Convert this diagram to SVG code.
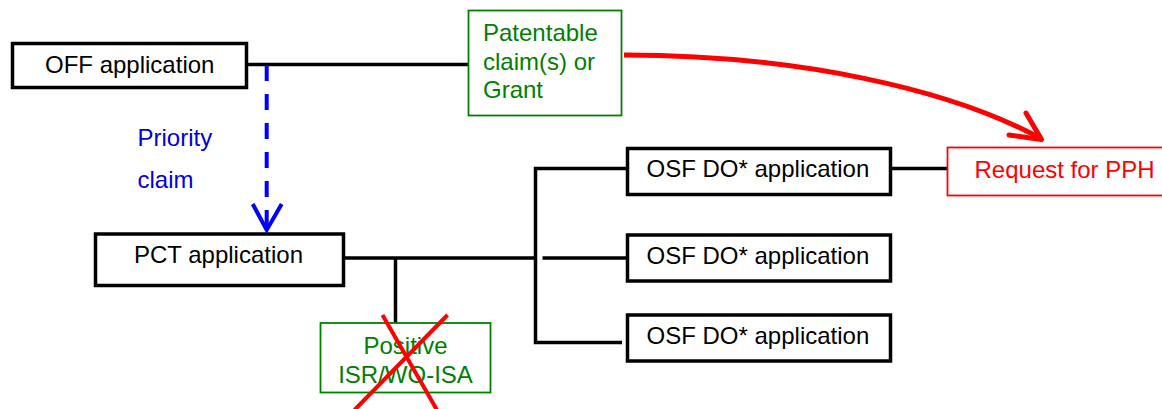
<svg xmlns="http://www.w3.org/2000/svg" width="1162" height="409" viewBox="0 0 1162 409">
<style>
.bk{fill:#fff;stroke:#000;stroke-width:3.5}
.gr{fill:#fff;stroke:#008000;stroke-width:1.8}
.rd{fill:#fff;stroke:#ff0000;stroke-width:1.8}
.t{font-family:"Liberation Sans",Arial,sans-serif;font-size:24px}
.tb{fill:#000}
.tg{fill:#008000}
.tr{fill:#ff0000}
.tbl{fill:#0000e0}
.ln{fill:none;stroke:#000;stroke-width:3.5}
</style>
<rect width="1162" height="409" fill="#fff"/>
<g id="connectors">
<line class="ln" x1="246" y1="64.5" x2="469" y2="64.5"/>
<line class="ln" x1="343" y1="258" x2="536" y2="258"/>
<line class="ln" x1="395.5" y1="258" x2="395.5" y2="323"/>
<polyline class="ln" points="627,168.5 535.5,168.5 535.5,342.5 622,342.5"/>
<line class="ln" x1="542.5" y1="258" x2="627" y2="258"/>
<line class="ln" x1="890" y1="168.5" x2="948" y2="168.5"/>
<line x1="266.7" y1="65" x2="266.7" y2="228" stroke="#0000ff" stroke-width="4" stroke-dasharray="16 13"/>
<polyline points="252.7,204 266.7,230 281.7,204" fill="none" stroke="#0000ff" stroke-width="4"/>
<path d="M624,55 C800,55 950,90 1038,137" fill="none" stroke="#ff0000" stroke-width="5"/>
<polyline points="1026,113 1041.5,139.5 1009,135" fill="none" stroke="#ff0000" stroke-width="5" stroke-linecap="round" stroke-linejoin="round"/>
</g>
<g id="off">
<rect class="bk" x="12.5" y="43.5" width="234" height="44"/>
<text class="t tb" x="45" y="73">OFF application</text>
</g>
<g id="patentable">
<rect class="gr" x="468.5" y="10.5" width="153" height="105"/>
<text class="t tg" x="483" y="41">Patentable</text>
<text class="t tg" x="483" y="69.5">claim(s) or</text>
<text class="t tg" x="483" y="98">Grant</text>
</g>
<g id="priority-label">
<text class="t tbl" x="137.5" y="145.5">Priority</text>
<text class="t tbl" x="137.5" y="188">claim</text>
</g>
<g id="pct">
<rect class="bk" x="95.5" y="234" width="248" height="51.5"/>
<text class="t tb" x="134" y="263">PCT application</text>
</g>
<g id="positive">
<rect class="gr" x="320.5" y="323" width="170" height="69.5"/>
<text class="t tg" x="405.5" y="354" text-anchor="middle">Positive</text>
<text class="t tg" x="405.5" y="383" text-anchor="middle">ISR/WO-ISA</text>
<line x1="382.5" y1="315" x2="437" y2="410" stroke="#ff0000" stroke-width="4"/>
<line x1="447.5" y1="315" x2="354.5" y2="410" stroke="#ff0000" stroke-width="4"/>
</g>
<g id="osf1">
<rect class="bk" x="627.5" y="148.5" width="263" height="46"/>
<text class="t tb" x="646.5" y="177">OSF DO* application</text>
</g>
<g id="osf2">
<rect class="bk" x="627.5" y="235" width="263" height="46"/>
<text class="t tb" x="646.5" y="263.5">OSF DO* application</text>
</g>
<g id="osf3">
<rect class="bk" x="627.5" y="315" width="263" height="46"/>
<text class="t tb" x="646.5" y="344">OSF DO* application</text>
</g>
<g id="pph">
<rect class="rd" x="947.5" y="147.5" width="230" height="48"/>
<text class="t tr" x="974.5" y="177.5">Request for PPH</text>
</g>
</svg>
